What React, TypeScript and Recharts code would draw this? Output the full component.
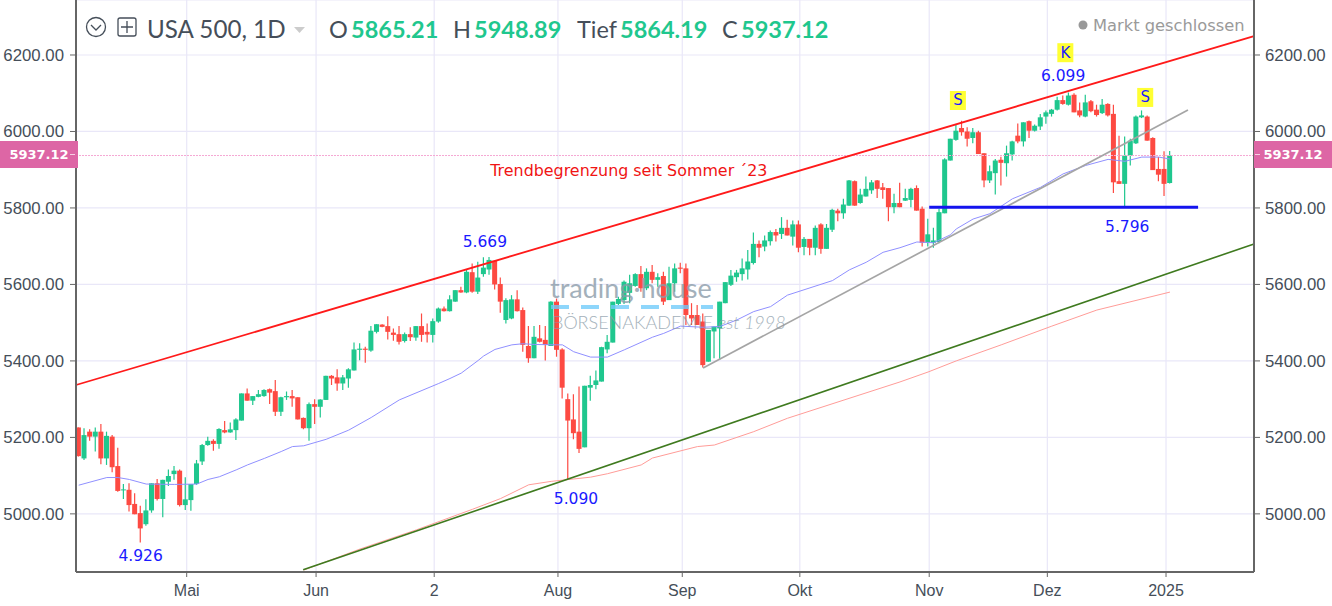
import {
  ComposedChart,
  Bar,
  Line,
  XAxis,
  YAxis,
  CartesianGrid,
  ReferenceLine,
  ReferenceDot,
} from "recharts";

// open, high, low, close per trading day
const opens = [
  5226, 5145, 5215, 5202, 5215, 5145, 5202, 5125, 5063, 5063, 5026, 5002, 4973, 5009, 5080, 5039, 5084, 5104, 5113, 5023,
  5036, 5078, 5137, 5180, 5191, 5183, 5219, 5213, 5219, 5244, 5315, 5296, 5306, 5308, 5326, 5321, 5267, 5305, 5308, 5305,
  5251, 5224, 5287, 5280, 5298, 5361, 5357, 5341, 5354, 5375, 5429, 5432, 5427, 5476, 5495, 5491, 5474, 5470, 5452, 5470,
  5461, 5491, 5476, 5468, 5503, 5537, 5530, 5555, 5585, 5579, 5632, 5581, 5627, 5639, 5662, 5601, 5507, 5511, 5561, 5533,
  5439, 5407, 5459, 5455, 5439, 5555, 5430, 5300, 5247, 5215, 5174, 5330, 5337, 5346, 5430, 5448, 5549, 5559, 5578, 5596,
  5627, 5590, 5633, 5612, 5622, 5559, 5603, 5644, 5642, 5520, 5520, 5503, 5398, 5477, 5485, 5551, 5599, 5619, 5627, 5639,
  5656, 5706, 5699, 5713, 5737, 5732, 5748, 5725, 5757, 5698, 5719, 5696, 5757, 5693, 5743, 5793, 5786, 5806, 5870, 5813,
  5830, 5846, 5872, 5854, 5852, 5802, 5813, 5819, 5821, 5852, 5798, 5709, 5709, 5711, 5786, 5924, 5978, 6009, 6000, 5983,
  5998, 5943, 5872, 5891, 5926, 5917, 5940, 5989, 5974, 6027, 6002, 6013, 6039, 6046, 6057, 6082, 6070, 6096, 6055, 6039,
  6079, 6057, 6048, 6072, 6046, 5870, 5863, 5937, 5969, 6037, 6039, 5983, 5902, 5902, 5865.21,
];
const highs = [
  5226, 5224, 5221, 5226, 5235, 5215, 5206, 5173, 5078, 5080, 5054, 5021, 5038, 5080, 5091, 5089, 5116, 5125, 5116, 5096,
  5078, 5141, 5183, 5202, 5195, 5224, 5243, 5239, 5250, 5315, 5328, 5308, 5324, 5326, 5328, 5350, 5306, 5320, 5324, 5305,
  5252, 5291, 5300, 5300, 5361, 5363, 5378, 5363, 5381, 5448, 5446, 5437, 5491, 5496, 5496, 5517, 5485, 5491, 5474, 5488,
  5491, 5524, 5498, 5511, 5540, 5542, 5572, 5585, 5594, 5639, 5655, 5659, 5671, 5672, 5662, 5618, 5564, 5572, 5585, 5540,
  5491, 5491, 5494, 5491, 5556, 5563, 5433, 5315, 5313, 5333, 5335, 5361, 5375, 5437, 5468, 5555, 5568, 5610, 5625, 5629,
  5648, 5642, 5651, 5629, 5633, 5646, 5655, 5657, 5655, 5551, 5546, 5524, 5481, 5490, 5555, 5606, 5638, 5638, 5668, 5690,
  5736, 5715, 5728, 5741, 5745, 5776, 5769, 5767, 5767, 5724, 5719, 5754, 5760, 5758, 5798, 5798, 5824, 5873, 5872, 5850,
  5882, 5873, 5873, 5865, 5852, 5837, 5866, 5850, 5853, 5859, 5804, 5772, 5748, 5798, 5930, 5981, 6018, 6028, 6011, 6009,
  6002, 5943, 5911, 5928, 5934, 5963, 5976, 6021, 6024, 6029, 6018, 6046, 6055, 6059, 6091, 6094, 6102, 6100, 6076, 6096,
  6082, 6070, 6085, 6074, 6070, 5989, 5987, 5981, 6042, 6055, 6042, 5985, 5933, 5948, 5948.89,
];
const lows = [
  5150, 5141, 5191, 5163, 5130, 5128, 5109, 5058, 5039, 5006, 4999, 4925, 4969, 5003, 5035, 4991, 5073, 5089, 5019, 5010,
  5008, 5076, 5128, 5178, 5165, 5170, 5211, 5212, 5193, 5244, 5296, 5285, 5305, 5306, 5287, 5256, 5256, 5298, 5280, 5247,
  5221, 5191, 5235, 5252, 5298, 5337, 5322, 5324, 5330, 5375, 5402, 5395, 5424, 5472, 5488, 5456, 5453, 5443, 5448, 5452,
  5453, 5450, 5448, 5448, 5500, 5529, 5529, 5555, 5578, 5577, 5578, 5575, 5620, 5625, 5587, 5526, 5498, 5509, 5529, 5424,
  5395, 5407, 5448, 5401, 5439, 5411, 5302, 5089, 5195, 5159, 5174, 5296, 5326, 5346, 5420, 5448, 5546, 5549, 5551, 5594,
  5581, 5585, 5603, 5594, 5546, 5559, 5581, 5629, 5494, 5494, 5494, 5383, 5398, 5407, 5404, 5551, 5596, 5607, 5610, 5613,
  5652, 5671, 5687, 5702, 5712, 5719, 5728, 5702, 5684, 5676, 5676, 5676, 5680, 5693, 5737, 5765, 5772, 5806, 5806, 5811,
  5830, 5837, 5826, 5824, 5765, 5786, 5802, 5818, 5802, 5793, 5699, 5699, 5696, 5708, 5786, 5924, 5976, 5989, 5961, 5969,
  5941, 5854, 5865, 5835, 5859, 5882, 5924, 5969, 5961, 5983, 6000, 6004, 6020, 6039, 6055, 6070, 6068, 6050, 6037, 6037,
  6050, 6039, 6046, 6039, 5839, 5863, 5800, 5911, 5967, 6035, 5976, 5899, 5870, 5831, 5864.19,
];
const closes = [
  5151, 5206, 5202, 5215, 5145, 5204, 5122, 5060, 5064, 5023, 4999, 4962, 5009, 5080, 5039, 5089, 5099, 5113, 5023, 5038,
  5078, 5132, 5180, 5191, 5183, 5222, 5213, 5221, 5247, 5315, 5296, 5308, 5313, 5324, 5317, 5267, 5305, 5308, 5302, 5247,
  5224, 5287, 5280, 5299, 5361, 5354, 5341, 5357, 5378, 5430, 5432, 5429, 5479, 5496, 5489, 5476, 5468, 5450, 5470, 5462,
  5491, 5468, 5469, 5504, 5537, 5530, 5561, 5585, 5579, 5633, 5581, 5618, 5644, 5664, 5600, 5555, 5559, 5561, 5530, 5442,
  5407, 5463, 5450, 5442, 5555, 5429, 5330, 5244, 5211, 5170, 5335, 5337, 5349, 5436, 5450, 5555, 5562, 5607, 5603, 5627,
  5590, 5633, 5612, 5619, 5555, 5603, 5642, 5641, 5520, 5511, 5494, 5389, 5481, 5490, 5555, 5606, 5623, 5631, 5642, 5660,
  5706, 5696, 5715, 5737, 5728, 5748, 5728, 5757, 5696, 5719, 5696, 5748, 5693, 5748, 5795, 5786, 5809, 5872, 5806, 5835,
  5850, 5867, 5850, 5847, 5802, 5813, 5802, 5826, 5850, 5793, 5709, 5731, 5715, 5789, 5927, 5981, 6002, 5998, 5981, 5998,
  5941, 5872, 5896, 5924, 5918, 5943, 5974, 5974, 6024, 6002, 6015, 6037, 6050, 6057, 6082, 6072, 6094, 6050, 6042, 6076,
  6053, 6043, 6070, 6042, 5867, 5863, 5937, 5976, 6039, 6042, 5976, 5899, 5887, 5863, 5937.12,
];

// moving averages, read at these candle numbers
const blueMaDays = [0, 2, 5, 7, 9, 12, 17, 21, 23, 25, 28, 30, 33, 36, 38, 40, 44, 48, 52, 57, 64, 66, 68, 71, 72, 74, 77, 79, 81, 85, 86, 88, 91, 94, 97, 102, 104, 107, 111, 114, 117, 120, 123, 126, 134, 137, 140, 143, 146, 149, 152, 155, 156, 159, 162, 166, 171, 175, 179, 183, 186, 189, 192, 194];
const blueMaValues = [5075, 5083, 5095, 5095, 5090, 5078, 5077, 5078, 5090, 5097, 5115, 5128, 5145, 5163, 5176, 5178, 5195, 5219, 5252, 5298, 5341, 5354, 5368, 5401, 5413, 5430, 5442, 5445, 5443, 5442, 5442, 5424, 5410, 5410, 5429, 5462, 5472, 5491, 5488, 5490, 5507, 5529, 5542, 5572, 5610, 5638, 5658, 5684, 5696, 5711, 5709, 5730, 5745, 5771, 5785, 5824, 5854, 5889, 5911, 5927, 5922, 5933, 5933, 5928];
const redMaDays = [40, 50, 60, 70, 75, 80, 84, 91, 94, 100, 102, 110, 113, 120, 126, 146, 151, 156, 164, 173, 181, 194];
const redMaValues = [4853, 4908, 4958, 5012, 5040, 5076, 5085, 5096, 5105, 5128, 5146, 5176, 5180, 5215, 5250, 5345, 5371, 5400, 5442, 5491, 5533, 5580];

// hand drawn lines: [day, price] at both ends
const trendRed = [[-0.48, 5337], [208.94, 6249.5]];
const trendGreen = [[39.9, 4853.6], [208.94, 5705.8]];
const trendGray = [[111, 5381.6], [197.2, 6056]];
const supportBlue = [[151.2, 5802], [199, 5802]];

const priceTicks = [5000, 5200, 5400, 5600, 5800, 6000, 6200];
const monthTicks = [19.2, 42.2, 63.2, 85.2, 107.3, 128.2, 151.2, 172.2, 193.3];
const monthLabels = ["Mai", "Jun", "2", "Aug", "Sep", "Okt", "Nov", "Dez", "2025"];
const lastPrice = 5937.12;

const blueNotes = [
  { day: 11, price: 4890, text: "4.926" },
  { day: 72.2, price: 5711, text: "5.669" },
  { day: 88.4, price: 5039, text: "5.090" },
  { day: 175, price: 6145, text: "6.099" },
  { day: 186.4, price: 5750, text: "5.796" },
];
const yellowNotes = [
  { day: 156.3, price: 6081, text: "S" },
  { day: 175.4, price: 6206, text: "K" },
  { day: 189.6, price: 6089, text: "S" },
];

const rows = opens.map((open, i) => ({
  day: i,
  open,
  high: highs[i],
  low: lows[i],
  close: closes[i],
  range: [lows[i], highs[i]],
  blueMa: blueMaDays.includes(i) ? blueMaValues[blueMaDays.indexOf(i)] : null,
  redMa: redMaDays.includes(i) ? redMaValues[redMaDays.indexOf(i)] : null,
}));

const UP = "#1fc78e";
const DOWN = "#fd4a42";
const INK = "#454e59";
const DEJAVU = "'DejaVu Sans', sans-serif";

function Candle(props: any) {
  const { x, y, width, height, payload } = props;
  const perPoint = height / (payload.high - payload.low);
  const openY = y + (payload.high - payload.open) * perPoint;
  const closeY = y + (payload.high - payload.close) * perPoint;
  const color = payload.close >= payload.open ? UP : DOWN;
  const mid = x + width / 2;
  return (
    <g>
      <line x1={mid} x2={mid} y1={y} y2={y + height} stroke={color} strokeWidth={1.2} />
      <rect
        x={x}
        y={Math.min(openY, closeY)}
        width={width}
        height={Math.max(Math.abs(openY - closeY), 1)}
        fill={color}
      />
    </g>
  );
}

function BlueNote({ cx, cy, text }: any) {
  return (
    <text x={cx} y={cy} textAnchor="middle" dominantBaseline="central" fontFamily={DEJAVU} fontSize={15.5} fill="#1a1aff">
      {text}
    </text>
  );
}

function YellowNote({ cx, cy, text }: any) {
  return (
    <g>
      <rect x={cx - 8} y={cy - 9.5} width={16} height={19} fill="#ffff33" />
      <text x={cx} y={cy} textAnchor="middle" dominantBaseline="central" fontFamily={DEJAVU} fontSize={15} fill="#1a1aff">
        {text}
      </text>
    </g>
  );
}

function PriceBadge({ left, tickLeft }: { left: number; tickLeft: number }) {
  return (
    <div
      style={{
        position: "absolute",
        left,
        top: 141,
        width: 78,
        height: 27,
        background: "#dd66a5",
        color: "#fff",
        fontFamily: DEJAVU,
        fontWeight: 700,
        fontSize: 13,
        lineHeight: "27px",
        textAlign: "center",
      }}
    >
      {lastPrice.toFixed(2)}
      <div style={{ position: "absolute", left: tickLeft, top: 13, width: 5, height: 1, background: "#f6d0e4" }} />
    </div>
  );
}

function Head({ left, color, weight, size = 23.5, children }: any) {
  return (
    <div
      style={{
        position: "absolute",
        left,
        top: 14,
        fontFamily: "Lato, sans-serif",
        fontSize: size,
        fontWeight: weight ?? 400,
        lineHeight: "30px",
        color,
        whiteSpace: "nowrap",
      }}
    >
      {children}
    </div>
  );
}

export default function App() {
  return (
    <div style={{ position: "absolute", left: 0, top: 0, width: 1332, height: 606, background: "#fff", overflow: "hidden" }}>
      <ComposedChart width={1332} height={606} data={rows} margin={{ top: 0, right: 0, bottom: 0, left: 0 }}>
        <CartesianGrid stroke="#e9e7f8" strokeWidth={1.2} />
        <XAxis
          dataKey="day"
          type="number"
          domain={[-0.48, 208.94]}
          allowDataOverflow
          ticks={monthTicks}
          interval={0}
          tickFormatter={(v: number) => monthLabels[monthTicks.indexOf(v)]}
          height={34}
          tickSize={5}
          tickMargin={8}
          tick={{ fill: INK, fontSize: 16, fontFamily: "'Liberation Sans', sans-serif" }}
          axisLine={{ stroke: "#666", strokeWidth: 2 }}
          tickLine={{ stroke: "#666" }}
        />
        <YAxis
          type="number"
          domain={[4848, 6343.8]}
          allowDataOverflow
          ticks={priceTicks}
          interval={0}
          width={76}
          tickFormatter={(v: number) => v.toFixed(2)}
          tickSize={6}
          tickMargin={6}
          tick={{ fill: INK, fontSize: 16.8, fontFamily: "'Liberation Sans', sans-serif" }}
          axisLine={{ stroke: "#666", strokeWidth: 2 }}
          tickLine={{ stroke: "#666" }}
        />
        <YAxis
          yAxisId="right"
          orientation="right"
          type="number"
          domain={[4848, 6343.8]}
          allowDataOverflow
          ticks={priceTicks}
          interval={0}
          width={78}
          tickFormatter={(v: number) => v.toFixed(2)}
          tickSize={6}
          tickMargin={5}
          tick={{ fill: INK, fontSize: 16.8, fontFamily: "'Liberation Sans', sans-serif" }}
          axisLine={{ stroke: "#666", strokeWidth: 2 }}
          tickLine={{ stroke: "#666" }}
        />
        <ReferenceLine y={lastPrice} stroke="#f5a8d4" strokeDasharray="2 1" />
        <Line dataKey="redMa" stroke="#ff9c98" strokeWidth={1} dot={false} connectNulls isAnimationActive={false} />
        <Bar dataKey="range" barSize={5} shape={<Candle />} isAnimationActive={false} />
        <Line dataKey="blueMa" stroke="#9090ff" strokeWidth={1} dot={false} connectNulls isAnimationActive={false} />
        <ReferenceLine
          segment={trendRed.map(([x, y]) => ({ x, y }))}
          stroke="#ff1a1a"
          strokeWidth={1.8}
          ifOverflow="visible"
        />
        <ReferenceLine
          segment={trendGreen.map(([x, y]) => ({ x, y }))}
          stroke="#3f7a1f"
          strokeWidth={1.6}
          ifOverflow="visible"
        />
        <ReferenceLine
          segment={trendGray.map(([x, y]) => ({ x, y }))}
          stroke="#a5a5a5"
          strokeWidth={1.7}
          ifOverflow="visible"
        />
        <ReferenceLine
          segment={supportBlue.map(([x, y]) => ({ x, y }))}
          stroke="#1414ee"
          strokeWidth={3}
          ifOverflow="visible"
        />
        {blueNotes.map((n) => (
          <ReferenceDot key={n.text} x={n.day} y={n.price} r={0} shape={<BlueNote text={n.text} />} />
        ))}
        {yellowNotes.map((n) => (
          <ReferenceDot key={n.day} x={n.day} y={n.price} r={0} shape={<YellowNote text={n.text} />} />
        ))}
        <ReferenceDot
          x={97.8}
          y={5899}
          r={0}
          shape={(p: any) => (
            <text x={p.cx} y={p.cy} textAnchor="middle" dominantBaseline="central" fontFamily={DEJAVU} fontSize={15.9} fill="#f01414">
              Trendbegrenzung seit Sommer ´23
            </text>
          )}
        />
      </ComposedChart>

      <PriceBadge left={0} tickLeft={70} />
      <PriceBadge left={1254} tickLeft={1} />

      {/* watermark */}
      <div style={{ position: "absolute", left: 550, top: 272, opacity: 0.78, fontFamily: "Lato, sans-serif", color: "#8a9ba8", whiteSpace: "nowrap" }}>
        <div style={{ fontSize: 27, lineHeight: "32px" }}>trading·house</div>
        <svg width={165} height={6} style={{ display: "block" }}>
          <line x1={1} x2={163} y1={3} y2={3} stroke="#6fcbfb" strokeWidth={4} strokeDasharray="18 12" />
        </svg>
        <div style={{ fontSize: 18, lineHeight: "24px", fontWeight: 300, marginLeft: 2 }}>
          BÖRSENAKADEMIE <span style={{ fontStyle: "italic", fontSize: 18 }}>est 1998</span>
        </div>
      </div>

      {/* legend row */}
      <svg width={145} height={30} style={{ position: "absolute", left: 80, top: 13 }}>
        <circle cx={16} cy={14} r={9.5} fill="none" stroke={INK} strokeWidth={1.3} />
        <path d="M11 12 L16 17 L21 12" fill="none" stroke={INK} strokeWidth={1.3} />
        <rect x={38} y={5} width={18} height={18} rx={2} fill="none" stroke={INK} strokeWidth={1.3} />
        <path d="M47 8 V20 M41 14 H53" stroke={INK} strokeWidth={1.3} />
      </svg>
      <Head left={147} color={INK} size={24.2}>USA 500, 1D</Head>
      <svg width={14} height={8} style={{ position: "absolute", left: 293, top: 26 }}>
        <path d="M1 1 H12 L6.5 7 Z" fill="#ccc" />
      </svg>
      <Head left={329} color={INK}>O</Head>
      <Head left={351} color={UP} weight={700}>{opens[opens.length - 1].toFixed(2)}</Head>
      <Head left={453} color={INK}>H</Head>
      <Head left={474} color={UP} weight={700}>{highs[highs.length - 1].toFixed(2)}</Head>
      <Head left={577} color={INK}>Tief</Head>
      <Head left={620} color={UP} weight={700}>{lows[lows.length - 1].toFixed(2)}</Head>
      <Head left={722} color={INK}>C</Head>
      <Head left={741} color={UP} weight={700}>{closes[closes.length - 1].toFixed(2)}</Head>

      <svg width={10} height={10} style={{ position: "absolute", left: 1078, top: 20 }}>
        <circle cx={5} cy={5} r={4.5} fill="#999" />
      </svg>
      <div
        style={{
          position: "absolute",
          left: 1093,
          top: 15,
          fontFamily: DEJAVU,
          fontSize: 16.3,
          lineHeight: "22px",
          color: "#9a9a9a",
          whiteSpace: "nowrap",
        }}
      >
        Markt geschlossen
      </div>
    </div>
  );
}
